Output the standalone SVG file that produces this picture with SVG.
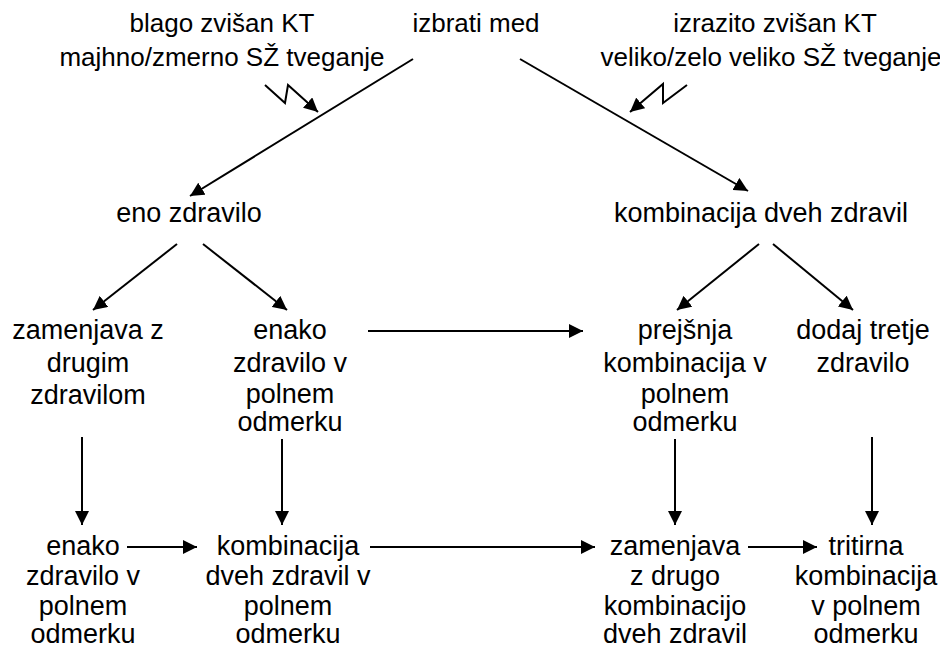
<svg xmlns="http://www.w3.org/2000/svg" width="940" height="650" viewBox="0 0 940 650">
<defs>
<marker id="ahL" viewBox="0 0 10 10" refX="10" refY="5" markerWidth="14" markerHeight="14" markerUnits="userSpaceOnUse" orient="auto">
<path d="M0,0 L10,5 L0,10 Z" fill="#000"/>
</marker>
</defs>
<style>
text{font-family:"Liberation Sans",Arial,sans-serif;font-size:27px;fill:#000;text-anchor:middle}
.t{font-size:26px}
.c{stroke:#000;stroke-width:2;fill:none}
</style>
<rect width="940" height="650" fill="#fff"/>
<g id="n-blago"><text class="t" x="222" y="32">blago zvišan KT</text><text class="t" x="222" y="66">majhno/zmerno SŽ tveganje</text></g>
<g id="n-izbrati"><text class="t" x="476" y="32">izbrati med</text></g>
<g id="n-izrazito"><text class="t" x="775" y="32">izrazito zvišan KT</text><text class="t" x="771" y="66">veliko/zelo veliko SŽ tveganje</text></g>
<g id="n-eno"><text x="189" y="222">eno zdravilo</text></g>
<g id="n-komb"><text x="761" y="222">kombinacija dveh zdravil</text></g>
<g id="n-zam1"><text x="88" y="339">zamenjava z</text><text x="88" y="372">drugim</text><text x="88" y="404">zdravilom</text></g>
<g id="n-enako1"><text x="290" y="339">enako</text><text x="290" y="372">zdravilo v</text><text x="290" y="403">polnem</text><text x="290" y="431">odmerku</text></g>
<g id="n-prej"><text x="685" y="339">prejšnja</text><text x="685" y="372">kombinacija v</text><text x="685" y="403">polnem</text><text x="685" y="431">odmerku</text></g>
<g id="n-dodaj"><text x="863" y="339">dodaj tretje</text><text x="863" y="372">zdravilo</text></g>
<g id="n-enako2"><text x="83" y="555">enako</text><text x="83" y="585">zdravilo  v</text><text x="83" y="615">polnem</text><text x="83" y="643">odmerku</text></g>
<g id="n-komb2"><text x="288" y="555">kombinacija</text><text x="288" y="585">dveh zdravil v</text><text x="288" y="615">polnem</text><text x="288" y="643">odmerku</text></g>
<g id="n-zam2"><text x="675" y="555">zamenjava</text><text x="675" y="585">z drugo</text><text x="675" y="615">kombinacijo</text><text x="675" y="643">dveh zdravil</text></g>
<g id="n-trit"><text x="866" y="555">tritirna</text><text x="866" y="585">kombinacija</text><text x="866" y="615">v polnem</text><text x="866" y="643">odmerku</text></g>
<g id="connectors">
<line class="c" x1="413" y1="59" x2="190" y2="196" marker-end="url(#ahL)"/>
<line class="c" x1="520" y1="59" x2="748" y2="191" marker-end="url(#ahL)"/>
<polyline class="c" points="265,85 285,103 288,85 318,112" marker-end="url(#ahL)"/>
<polyline class="c" points="687,85 663,103 663,84 630,112" marker-end="url(#ahL)"/>
<line class="c" x1="177" y1="244" x2="93" y2="310" marker-end="url(#ahL)"/>
<line class="c" x1="203" y1="244" x2="287" y2="310" marker-end="url(#ahL)"/>
<line class="c" x1="759" y1="244" x2="677" y2="310" marker-end="url(#ahL)"/>
<line class="c" x1="773" y1="244" x2="853" y2="310" marker-end="url(#ahL)"/>
<line class="c" x1="368" y1="331" x2="583" y2="331" marker-end="url(#ahL)"/>
<line class="c" x1="82" y1="437" x2="82" y2="525" marker-end="url(#ahL)"/>
<line class="c" x1="282" y1="439" x2="282" y2="525" marker-end="url(#ahL)"/>
<line class="c" x1="675" y1="439" x2="675" y2="525" marker-end="url(#ahL)"/>
<line class="c" x1="872" y1="437" x2="872" y2="525" marker-end="url(#ahL)"/>
<line class="c" x1="127" y1="547" x2="197" y2="547" marker-end="url(#ahL)"/>
<line class="c" x1="370" y1="547" x2="595" y2="547" marker-end="url(#ahL)"/>
<line class="c" x1="748" y1="547" x2="817" y2="547" marker-end="url(#ahL)"/>
</g>
</svg>
